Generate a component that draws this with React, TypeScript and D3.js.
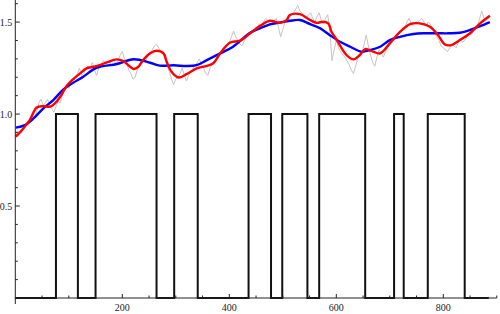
import React from "react";
import * as d3 from "d3";

const W = 500;
const H = 314;

// raw noisy series sampled every GRAY_STEP units
const GRAY_STEP = 4;
const grayValues = [
  0.88, 0.91, 0.90, 0.90, 0.93, 0.95, 0.94, 0.98, 0.99, 0.98, 1.01, 1.06, 1.08, 1.05, 1.06, 1.08,
  1.05, 1.03, 1.01, 1.04, 1.07, 1.06, 1.10, 1.14, 1.16, 1.14, 1.17, 1.19, 1.20, 1.22, 1.25, 1.21,
  1.22, 1.25, 1.26, 1.25, 1.28, 1.24, 1.21, 1.25, 1.27, 1.29, 1.28, 1.26, 1.27, 1.29, 1.30, 1.27,
  1.29, 1.32, 1.34, 1.30, 1.28, 1.24, 1.22, 1.19, 1.20, 1.24, 1.26, 1.29, 1.30, 1.29, 1.32, 1.33,
  1.35, 1.37, 1.38, 1.36, 1.34, 1.33, 1.30, 1.26, 1.23, 1.19, 1.16, 1.19, 1.20, 1.22, 1.25, 1.21,
  1.18, 1.21, 1.23, 1.25, 1.26, 1.28, 1.30, 1.27, 1.25, 1.22, 1.21, 1.25, 1.27, 1.29, 1.30, 1.31,
  1.33, 1.36, 1.37, 1.38, 1.39, 1.42, 1.45, 1.42, 1.40, 1.38, 1.37, 1.40, 1.42, 1.43, 1.44, 1.46,
  1.46, 1.47, 1.49, 1.48, 1.50, 1.52, 1.51, 1.49, 1.49, 1.51, 1.52, 1.47, 1.42, 1.46, 1.50, 1.51,
  1.52, 1.54, 1.55, 1.57, 1.59, 1.56, 1.55, 1.53, 1.52, 1.54, 1.55, 1.52, 1.50, 1.53, 1.55, 1.51,
  1.49, 1.52, 1.54, 1.45, 1.29, 1.35, 1.40, 1.36, 1.34, 1.32, 1.31, 1.29, 1.27, 1.24, 1.22, 1.26,
  1.30, 1.32, 1.33, 1.38, 1.43, 1.37, 1.32, 1.28, 1.26, 1.31, 1.35, 1.33, 1.31, 1.34, 1.36, 1.38,
  1.40, 1.42, 1.43, 1.44, 1.45, 1.46, 1.47, 1.50, 1.52, 1.49, 1.48, 1.50, 1.50, 1.51, 1.52, 1.50,
  1.48, 1.50, 1.49, 1.46, 1.44, 1.42, 1.40, 1.37, 1.36, 1.35, 1.34, 1.36, 1.38, 1.37, 1.36, 1.39,
  1.41, 1.39, 1.40, 1.42, 1.44, 1.43, 1.45, 1.47, 1.48, 1.52, 1.56, 1.52, 1.51, 1.52, 1.53,
];

// smoothed series (red)
const redX = [1, 15, 27, 40, 52, 65, 74, 84, 96, 108, 121, 133, 146, 158, 171, 190, 202, 211, 221, 230,
  239, 252, 264, 277, 283, 292, 305, 320, 339, 358, 370, 383, 401, 420, 439, 457, 476, 495, 507, 513,
  532, 551, 563, 576, 585, 591, 601, 619, 632, 644, 654, 669, 682, 700, 719, 738, 756, 775, 790, 803,
  815, 831, 850, 869, 887];
const redY = [0.877, 0.922, 0.967, 1.036, 1.043, 1.04, 1.058, 1.094, 1.152, 1.189, 1.221, 1.248, 1.257,
  1.266, 1.281, 1.297, 1.288, 1.266, 1.245, 1.257, 1.293, 1.33, 1.344, 1.33, 1.284, 1.23, 1.199, 1.217,
  1.248, 1.262, 1.276, 1.33, 1.388, 1.399, 1.439, 1.478, 1.507, 1.496, 1.511, 1.538, 1.543, 1.511, 1.496,
  1.502, 1.493, 1.447, 1.402, 1.321, 1.297, 1.321, 1.353, 1.339, 1.33, 1.384, 1.447, 1.489, 1.493, 1.475,
  1.43, 1.378, 1.375, 1.402, 1.439, 1.493, 1.534];

// heavily smoothed series (blue)
const blueX = [1, 18, 34, 52, 71, 90, 108, 127, 146, 158, 190, 221, 252, 270, 296, 320, 339, 358, 383,
  407, 439, 457, 476, 495, 513, 532, 551, 570, 588, 607, 626, 647, 663, 682, 700, 719, 744, 763, 788,
  812, 831, 850, 869, 887];
const blueY = [0.926, 0.94, 0.976, 1.03, 1.076, 1.134, 1.17, 1.203, 1.243, 1.257, 1.272, 1.298, 1.279,
  1.263, 1.265, 1.261, 1.266, 1.293, 1.33, 1.366, 1.442, 1.466, 1.488, 1.498, 1.507, 1.511, 1.489, 1.466,
  1.429, 1.393, 1.366, 1.339, 1.348, 1.366, 1.402, 1.42, 1.435, 1.439, 1.439, 1.439, 1.442, 1.457, 1.478,
  1.5];

// square wave: intervals where signal = 1
const onStart = [76, 150, 297, 436, 499, 568, 708, 771];
const onEnd = [117, 264, 341, 478, 546, 654, 726, 840];
const waveEnd = 885;

const xMajor = [200, 400, 600, 800];
const yMajor = [0.5, 1.0, 1.5];

export default function App() {
  const x = d3.scaleLinear().domain([0, 900]).range([15.3, 496.8]);
  const y = d3.scaleLinear().domain([0, 1.62]).range([298, 0]);

  const wavePts: [number, number][] = [[0, 0]];
  onStart.forEach((s, i) => {
    wavePts.push([s, 0], [s, 1], [onEnd[i], 1], [onEnd[i], 0]);
  });
  wavePts.push([waveEnd, 0]);

  const line = d3
    .line<[number, number]>()
    .x((d) => x(d[0]))
    .y((d) => y(d[1]));
  const smooth = d3
    .line<[number, number]>()
    .x((d) => x(d[0]))
    .y((d) => y(d[1]))
    .curve(d3.curveCatmullRom.alpha(0.5));

  const grayPts: [number, number][] = grayValues.map((v, i) => [i * GRAY_STEP, v]);
  const redPts: [number, number][] = redX.map((v, i) => [v, redY[i]]);
  const bluePts: [number, number][] = blueX.map((v, i) => [v, blueY[i]]);

  const xMinor = d3.range(50, 901, 50).filter((v) => !xMajor.includes(v));
  const yMinor = d3.range(1, 17).map((k) => k / 10).filter((v) => !yMajor.some((m) => Math.abs(m - v) < 1e-6));

  const axisColor = "#222";
  const font = "'Liberation Serif', 'DejaVu Serif', serif";

  return (
    <svg width={W} height={H} style={{ position: "absolute", left: 0, top: 0, background: "#fff" }}>
      <path d={line(grayPts) || ""} fill="none" stroke="#c4c4c4" strokeWidth={1} />
      <path d={line(wavePts) || ""} fill="none" stroke="#111" strokeWidth={2} strokeLinejoin="miter" />
      <path d={smooth(bluePts) || ""} fill="none" stroke="#0000ff" strokeWidth={2.4} />
      <path d={smooth(redPts) || ""} fill="none" stroke="#ff0000" strokeWidth={2.4} />

      {/* axes */}
      <line x1={x(0)} x2={x(0)} y1={0} y2={304} stroke={axisColor} strokeWidth={1} />
      <line x1={x(0) - 0.5} x2={x(900)} y1={y(0)} y2={y(0)} stroke={axisColor} strokeWidth={1} />

      {xMajor.map((v) => (
        <g key={"xm" + v}>
          <line x1={x(v)} x2={x(v)} y1={y(0)} y2={y(0) - 4} stroke={axisColor} />
          <text x={x(v)} y={y(0) + 13} textAnchor="middle" fontFamily={font} fontSize={10} fill="#222">
            {v}
          </text>
        </g>
      ))}
      {xMinor.map((v) => (
        <line key={"xn" + v} x1={x(v)} x2={x(v)} y1={y(0)} y2={y(0) - 2.5} stroke={axisColor} />
      ))}
      {yMajor.map((v) => (
        <g key={"ym" + v}>
          <line x1={x(0)} x2={x(0) + 4.5} y1={y(v)} y2={y(v)} stroke={axisColor} />
          <text x={x(0) - 3} y={y(v) + 3.5} textAnchor="end" fontFamily={font} fontSize={10} fill="#222">
            {v.toFixed(1)}
          </text>
        </g>
      ))}
      {yMinor.map((v) => (
        <line key={"yn" + v} x1={x(0)} x2={x(0) + 2.5} y1={y(v)} y2={y(v)} stroke={axisColor} />
      ))}
    </svg>
  );
}
